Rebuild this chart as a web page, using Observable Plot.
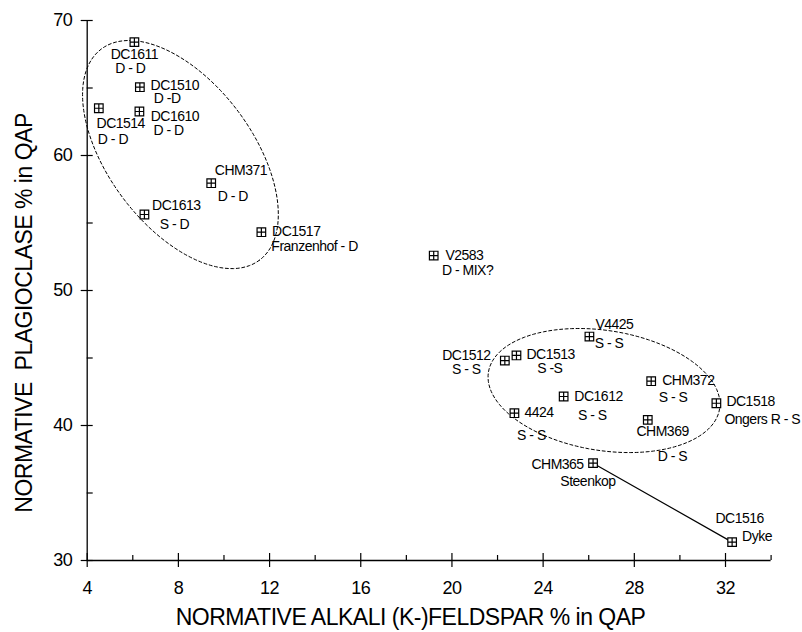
<!DOCTYPE html>
<html>
<head>
<meta charset="utf-8">
<style>
  html, body { margin: 0; padding: 0; background: #fff; }
  #chart svg { display: block; }
  #chart svg text { letter-spacing: -0.5px; }
</style>
<script src="https://cdn.jsdelivr.net/npm/d3@7"></script>
<script src="https://cdn.jsdelivr.net/npm/@observablehq/plot@0.6"></script>
</head>
<body>
<div id="chart"></div>
<script>
// ---- data ----
const samples = ["DC1611","DC1510","DC1514","DC1610","CHM371","DC1613","DC1517","V2583",
  "V4425","DC1512","DC1513","CHM372","DC1518","DC1612","4424","CHM369","CHM365","DC1516"];
const feldspar = [6.07, 6.31, 4.51, 6.29, 9.44, 6.51, 11.64, 19.2,
  26.03, 22.32, 22.83, 28.74, 31.6, 24.9, 22.74, 28.59, 26.19, 32.29];
const plagioclase = [68.4, 65.06, 63.5, 63.26, 57.95, 55.63, 54.32, 52.59,
  46.59, 44.81, 45.19, 43.28, 41.65, 42.15, 40.91, 40.42, 37.21, 31.36];
const notes = ["D - D","D -D","D - D","D - D","D - D","S - D","Franzenhof - D","D - MIX?",
  "S - S","S - S","S -S","S - S","Ongers R - S","S - S","S - S","D - S","Steenkop","Dyke"];
const dykeLink = ["CHM365","DC1516"];

const xMajorTicks = [4, 8, 12, 16, 20, 24, 28, 32];
const xMinorTicks = [6, 10, 14, 18, 22, 26, 30, 34];
const yMajorTicks = [30, 40, 50, 60, 70];
const yMinorTicks = [35, 45, 55, 65];

const xTitle = "NORMATIVE ALKALI (K-)FELDSPAR % in QAP";
const yTitle = "NORMATIVE\u00a0 PLAGIOCLASE % in QAP";

// grouping ellipses (centre and two semi-axis vectors, in data units)
const ellipseDolerite = {cx: 8.09, cy: 60.07, ax: 3.47, ay: -7.82, bx: -2.53, by: -3.2};
const ellipseSyenite  = {cx: 26.67, cy: 42.59, ax: 5.07, ay: -1.36, bx: -0.41, by: -4.39};

// label layout (separate from the data): [dx, dy, textAnchor] for name and note
const labelLayout = [
  [[0, 12.5, "middle"], [-4, 26.5, "middle"]],
  [[10.7, -1.8, "start"], [14, 11.8, "start"]],
  [[-2.3, 15, "start"], [-1, 30.9, "start"]],
  [[11.3, 5.5, "start"], [14, 19.5, "start"]],
  [[3.6, -12.2, "start"], [6.6, 13, "start"]],
  [[7.7, -8.5, "start"], [15.3, 10, "start"]],
  [[10.7, -0.5, "start"], [10, 14.4, "start"]],
  [[11.7, 0, "start"], [8.3, 14.5, "start"]],
  [[6, -12, "start"], [5.3, 7.3, "start"]],
  [[-14.3, -5.5, "end"], [-24.3, 8.8, "end"]],
  [[10, -1.2, "start"], [20.7, 13.3, "start"]],
  [[11, -1, "start"], [7.6, 16, "start"]],
  [[10, -2, "start"], [8, 16.3, "start"]],
  [[10.7, 0, "start"], [14.4, 19, "start"]],
  [[10, -0.7, "start"], [2.7, 22.3, "start"]],
  [[-11.3, 11.2, "start"], [10, 36.4, "start"]],
  [[-9.4, 1, "end"], [-32.7, 18.1, "start"]],
  [[-16.7, -23.7, "start"], [10, -5.9, "start"]]
];

// ---- build table ----
const rows = samples.map((s, i) => ({sample: s, k: feldspar[i], p: plagioclase[i], note: notes[i]}));
const linkRows = dykeLink.map(s => rows.find(r => r.sample === s));

function ellipsePoints(e) {
  return d3.range(0, 361, 3).map(deg => {
    const t = deg * Math.PI / 180;
    return {k: e.cx + Math.cos(t) * e.ax + Math.sin(t) * e.bx,
            p: e.cy + Math.cos(t) * e.ay + Math.sin(t) * e.by};
  });
}

const squarePlus = {
  draw(ctx, size) {
    const r = Math.sqrt(size / Math.PI);
    ctx.moveTo(-r, -r); ctx.lineTo(r, -r); ctx.lineTo(r, r); ctx.lineTo(-r, r); ctx.closePath();
    ctx.moveTo(0, -r); ctx.lineTo(0, r);
    ctx.moveTo(-r, 0); ctx.lineTo(r, 0);
  }
};

const labelMarks = [];
rows.forEach((d, i) => {
  const [nl, ntl] = labelLayout[i];
  labelMarks.push(Plot.text([d], {x: "k", y: "p", text: "sample", dx: nl[0], dy: nl[1],
    textAnchor: nl[2], lineAnchor: "middle", fontSize: 14}));
  labelMarks.push(Plot.text([d], {x: "k", y: "p", text: "note", dx: ntl[0], dy: ntl[1],
    textAnchor: ntl[2], lineAnchor: "middle", fontSize: 14}));
});

const chart = Plot.plot({
  width: 802,
  height: 632,
  marginLeft: 86.7,
  marginRight: 31.4,
  marginTop: 20,
  marginBottom: 72,
  style: {fontFamily: "'Liberation Sans', Arial, Helvetica, sans-serif", color: "black", background: "white"},
  x: {domain: [4, 34], label: null},
  y: {domain: [30, 70], label: null},
  marks: [
    // axes
    Plot.ruleX([4], {stroke: "black", strokeWidth: 1.3}),
    Plot.ruleY([30], {stroke: "black", strokeWidth: 1.3}),
    Plot.ruleX(xMajorTicks, {x: d => d, y1: 30, y2: 30, insetTop: 7, insetBottom: 7, stroke: "black", strokeWidth: 1.2}),
    Plot.ruleX(xMinorTicks, {x: d => d, y1: 30, y2: 30, insetTop: 0, insetBottom: 5, stroke: "black", strokeWidth: 1.2}),
    Plot.ruleY(yMajorTicks, {y: d => d, x1: 4, x2: 4, insetLeft: 6, insetRight: 6, stroke: "black", strokeWidth: 1.2}),
    Plot.ruleY(yMinorTicks, {y: d => d, x1: 4, x2: 4, insetLeft: 6, insetRight: 0, stroke: "black", strokeWidth: 1.2}),
    Plot.axisX({ticks: xMajorTicks, tickSize: 0, tickPadding: 21, fontSize: 18, label: null}),
    Plot.axisY({ticks: yMajorTicks, tickSize: 0, tickPadding: 15, fontSize: 18, label: null}),
    Plot.text([xTitle], {text: d => d, frameAnchor: "bottom", textAnchor: "middle", dx: -18.6, dy: 57,
      lineAnchor: "middle", fontSize: 23}),
    Plot.text([yTitle], {text: d => d, frameAnchor: "left", textAnchor: "middle", rotate: -90, dx: -63, dy: 22.5,
      lineAnchor: "middle", fontSize: 23}),
    // grouping ellipses
    Plot.line(ellipsePoints(ellipseDolerite), {x: "k", y: "p", stroke: "black", strokeWidth: 1, strokeDasharray: "3,2.5"}),
    Plot.line(ellipsePoints(ellipseSyenite), {x: "k", y: "p", stroke: "black", strokeWidth: 1, strokeDasharray: "3,2.5"}),
    // Steenkop - dyke link
    Plot.line(linkRows, {x: "k", y: "p", stroke: "black", strokeWidth: 1.2}),
    // samples
    Plot.dot(rows, {x: "k", y: "p", symbol: squarePlus, r: 4.3, stroke: "black", strokeWidth: 1.2, fill: "white"}),
    ...labelMarks
  ]
});

document.getElementById("chart").appendChild(chart);
</script>
</body>
</html>
